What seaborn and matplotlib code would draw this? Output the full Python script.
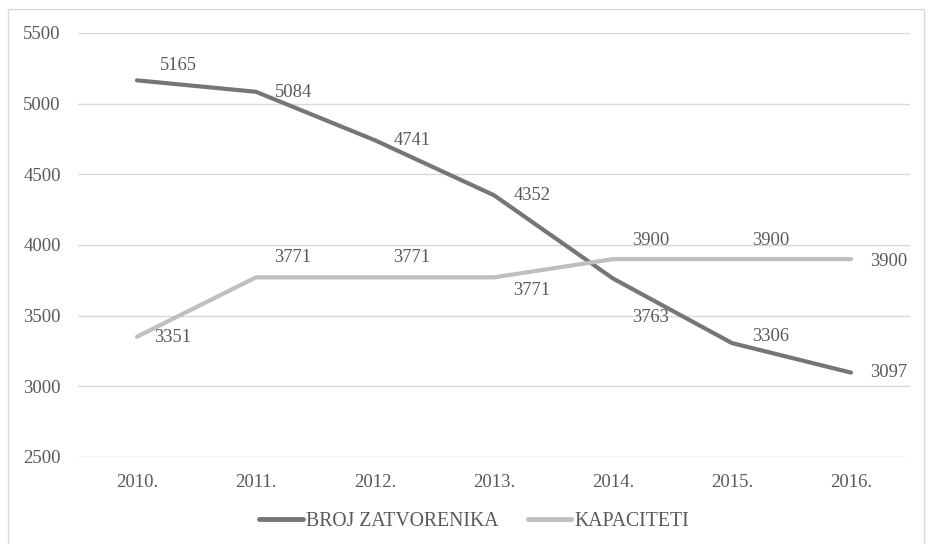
import matplotlib
matplotlib.use("Agg")
import matplotlib.pyplot as plt
import pandas as pd
import seaborn as sns
from matplotlib.patches import Rectangle

years = ["2010.", "2011.", "2012.", "2013.", "2014.", "2015.", "2016."]
zatvorenici = [5165, 5084, 4741, 4352, 3763, 3306, 3097]
kapaciteti = [3351, 3771, 3771, 3771, 3900, 3900, 3900]
series_names = ["BROJ ZATVORENIKA", "KAPACITETI"]
colors = ["#767676", "#bfbfbf"]

# label offsets in pixels (dx, dy), matched to the original placement
off_zat = [(41, 15), (37, -1), (37, 0), (38, 0), (38, -39), (39, 7), (38, 0)]
off_kap = [(36, -1), (37, 20), (37, 20), (38, -13), (38, 19), (39, 19), (38, -2)]

df = pd.DataFrame({
    "godina": years * 2,
    "vrijednost": zatvorenici + kapaciteti,
    "serija": [series_names[0]] * len(years) + [series_names[1]] * len(years),
})

sns.set_style("white")
plt.rcParams["font.family"] = ["Liberation Serif", "DejaVu Serif"]
txt = "#595959"

fig = plt.figure(figsize=(9.27, 5.44), dpi=100)
ax = fig.add_axes([77.5 / 927, 87 / 544, 833 / 927, 424 / 544])

sns.lineplot(data=df, x="godina", y="vrijednost", hue="serija",
             palette=colors, linewidth=3, sort=False, ax=ax,
             legend=False)
for ln in ax.get_lines():
    ln.set_solid_capstyle("round")
    ln.set_solid_joinstyle("round")

px = 72 / 100
for vals, offs in [(zatvorenici, off_zat), (kapaciteti, off_kap)]:
    for i, (v, (dx, dy)) in enumerate(zip(vals, offs)):
        ax.annotate(str(v), (i, v), xytext=(dx * px, dy * px),
                    textcoords="offset points", ha="center", va="center",
                    fontsize=13.3, color=txt)

ax.set_xlim(-0.5, len(years) - 0.5)
ax.set_ylim(2500, 5500)
ax.set_yticks(range(2500, 5501, 500))
ax.grid(axis="y", color="#d9d9d9", linewidth=1)
ax.set_axisbelow(True)
for s in ax.spines.values():
    s.set_visible(False)
ax.tick_params(axis="both", length=0, labelsize=13.5, labelcolor=txt)
ax.tick_params(axis="y", pad=12)
ax.tick_params(axis="x", pad=12)
ax.set_xlabel("")
ax.set_ylabel("")

handles = [plt.Line2D([], [], color=c, linewidth=3.5, solid_capstyle="round")
           for c in colors]
leg = fig.legend(handles, series_names, loc="center", ncol=2,
                 bbox_to_anchor=(474 / 927, 1 - 521 / 544), frameon=False,
                 fontsize=14.2, handlelength=2.2, handletextpad=0.15,
                 columnspacing=1.5)
for t in leg.get_texts():
    t.set_color(txt)

fig.patches.append(Rectangle((8 / 927, -0.02), 916 / 927, 1 - 9 / 544 + 0.02,
                             transform=fig.transFigure, fill=False,
                             edgecolor="#d9d9d9", linewidth=1))

fig.savefig("out.png", dpi=100)
